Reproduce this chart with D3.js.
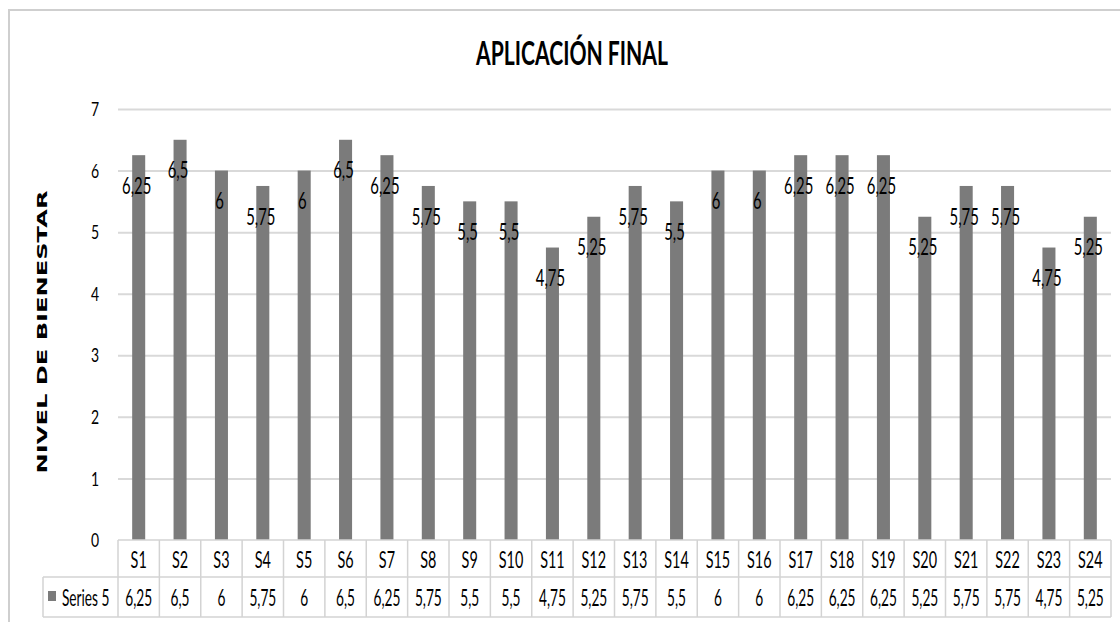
<!DOCTYPE html>
<html>
<head>
<meta charset="utf-8">
<script src="https://cdn.jsdelivr.net/npm/d3@7"></script>
<style>
  html, body { margin: 0; padding: 0; background: #fff; }
  svg { display: block; }
  text { font-family: Lato, "Open Sans", "Liberation Sans", sans-serif; fill: #000; }
</style>
</head>
<body>
<svg id="chart" width="1120" height="622"></svg>
<script>
// Chart data
const categories = ["S1","S2","S3","S4","S5","S6","S7","S8","S9","S10","S11","S12",
                    "S13","S14","S15","S16","S17","S18","S19","S20","S21","S22","S23","S24"];
const values = [6.25, 6.5, 6, 5.75, 6, 6.5, 6.25, 5.75, 5.5, 5.5, 4.75, 5.25,
                5.75, 5.5, 6, 6, 6.25, 6.25, 6.25, 5.25, 5.75, 5.75, 4.75, 5.25];
const yTicks = [0, 1, 2, 3, 4, 5, 6, 7];
const seriesName = "Series 5";
const chartTitle = "APLICACIÓN FINAL";
const yTitle = "NIVEL DE BIENESTAR";

const svg = d3.select("#chart");
const W = 1120, H = 622;

const plot = { left: 118, right: 1111, top: 109, bottom: 540 };
const table = { row1: 540, row2: 577, bottom: 617, legendLeft: 43 };

const BAR = "#7b7b7b";
const GRID = "#d9d9d9";
const LINE = "#d3d3d3";

// decimal comma formatting
const fmt = v => String(v).replace(".", ",");

// condensed text: glyphs narrowed horizontally around the anchor point
const condensed = (px, py, k) => `translate(${px},${py}) scale(${k},1)`;

// outer frame
svg.append("rect")
  .attr("x", 9).attr("y", 10).attr("width", W + 40).attr("height", H + 40)
  .attr("fill", "none").attr("stroke", "#cfcfcf").attr("stroke-width", 2);

// scales
const x = d3.scaleBand().domain(categories).range([plot.left, plot.right])
  .paddingInner(0.685).paddingOuter(0.3425);
const col = d3.scaleBand().domain(categories).range([plot.left, plot.right]).padding(0);
const y = d3.scaleLinear().domain([0, 7]).range([plot.bottom, plot.top]);

// gridlines
const yAxis = svg.append("g")
  .attr("transform", `translate(${plot.left},0)`)
  .call(d3.axisLeft(y).tickValues(yTicks).tickFormat("")
    .tickSize(-(plot.right - plot.left)));
yAxis.select(".domain").remove();
yAxis.selectAll(".tick line")
  .attr("stroke", GRID).attr("stroke-width", 2)
  .attr("display", d => d === 0 ? "none" : null);

// value tick labels
svg.append("g").selectAll("text")
  .data(yTicks).join("text")
  .attr("transform", d => condensed(plot.left - 19, y(d), 0.7))
  .attr("dy", "0.36em").attr("text-anchor", "end").attr("font-size", 20)
  .text(d => d);

// bars
svg.append("g").selectAll("rect")
  .data(values)
  .join("rect")
  .attr("x", (d, i) => x(categories[i]))
  .attr("width", x.bandwidth())
  .attr("y", d => y(d))
  .attr("height", d => y(0) - y(d))
  .attr("fill", BAR);

// data labels
svg.append("g").selectAll("text")
  .data(values)
  .join("text")
  .attr("transform", (d, i) => condensed(x(categories[i]) + x.bandwidth() / 2 - 2, y(d) + 30, 0.62))
  .attr("dy", "0.36em")
  .attr("text-anchor", "middle")
  .attr("font-size", 24)
  .text(d => fmt(d));

// data table
const tg = svg.append("g").attr("stroke", LINE).attr("stroke-width", 1.5);
tg.append("line").attr("x1", plot.left).attr("x2", plot.right).attr("y1", table.row1).attr("y2", table.row1);
tg.append("line").attr("x1", table.legendLeft).attr("x2", plot.right).attr("y1", table.row2).attr("y2", table.row2);
tg.append("line").attr("x1", table.legendLeft).attr("x2", plot.right).attr("y1", table.bottom).attr("y2", table.bottom);
tg.append("line").attr("x1", table.legendLeft).attr("x2", table.legendLeft).attr("y1", table.row2).attr("y2", table.bottom);
const edges = categories.map(c => col(c)).concat([plot.right]);
tg.selectAll("line.v").data(edges).join("line").attr("class", "v")
  .attr("x1", d => d).attr("x2", d => d).attr("y1", table.row1).attr("y2", table.bottom);

svg.append("g").selectAll("text")
  .data(categories).join("text")
  .attr("transform", d => condensed(col(d) + col.bandwidth() / 2, (table.row1 + table.row2) / 2 + 1, 0.6))
  .attr("dy", "0.36em").attr("text-anchor", "middle").attr("font-size", 24)
  .text(d => d);

svg.append("g").selectAll("text")
  .data(values).join("text")
  .attr("transform", (d, i) => condensed(col(categories[i]) + col.bandwidth() / 2, (table.row2 + table.bottom) / 2, 0.57))
  .attr("dy", "0.36em").attr("text-anchor", "middle").attr("font-size", 24)
  .text(d => fmt(d));

// legend key in the table
svg.append("rect").attr("x", 48).attr("y", 591).attr("width", 8).attr("height", 10).attr("fill", BAR);
svg.append("text")
  .attr("transform", condensed(62, (table.row2 + table.bottom) / 2, 0.57))
  .attr("dy", "0.36em").attr("font-size", 24)
  .text(seriesName);

// chart title
svg.append("text")
  .attr("transform", condensed(572, 65, 0.66))
  .attr("text-anchor", "middle").attr("font-size", 32).attr("font-weight", 700)
  .text(chartTitle);

// value axis title
svg.append("text")
  .attr("transform", "translate(47,332) scale(0.62,1) rotate(-90)")
  .attr("text-anchor", "middle").attr("font-size", 23).attr("font-weight", 700)
  .style("font-family", "'DejaVu Sans', sans-serif")
  .attr("textLength", 283).attr("lengthAdjust", "spacingAndGlyphs")
  .text(yTitle);
</script>
</body>
</html>
